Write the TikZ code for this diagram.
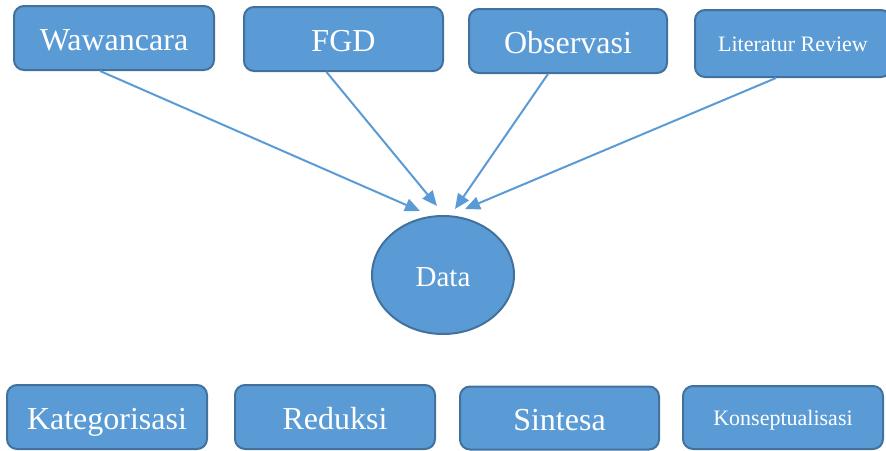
\documentclass[tikz,border=0pt]{standalone}
\usepackage{fontspec}
\setmainfont{Liberation Serif}
\usetikzlibrary{arrows.meta,shapes.geometric}
\definecolor{boxfill}{HTML}{5B9BD5}
\definecolor{boxline}{HTML}{41719C}

\tikzset{
	flowpicture/.style = {
		x = 1pt,
		y = -1pt,
		arrow/.style = {
			draw = boxfill,
			line width = 2pt,
			-{Triangle[length = 15pt, width = 13pt]},
		}
	},
	stepbox/.style = {
		rectangle,
		rounded corners = 10pt,
		draw = boxline,
		line width = 2pt,
		fill = boxfill,
		text = white,
		text height = 24pt,
		text depth = 0pt,
		minimum width = 200pt,
		minimum height = 64pt,
		font = \fontsize{32}{36}\selectfont
	},
	small-text/.style = {
		text height = 16.5pt,
		font = \fontsize{22}{26}\selectfont
	},
	datanode/.style = {
		ellipse,
		draw = boxline,
		line width = 2pt,
		fill = boxfill,
		text = white,
		text height = 22pt,
		text depth = 0pt,
		inner sep = 0pt,
		minimum width = 142pt,
		minimum height = 118pt,
		font = \fontsize{29}{34}\selectfont
	}
}

\begin{document}
\begin{tikzpicture}[flowpicture]
	\useasboundingbox (0,0) rectangle (886,450);

	\node[stepbox] (waw) at (114,38) {Wawancara};
	\node[stepbox, minimum width = 199pt] (fgd) at (343.5,39) {FGD};
	\node[stepbox, minimum width = 198pt] (obs) at (568,41) {Observasi};
	\node[stepbox, small-text, minimum width = 196pt, minimum height = 67pt] (lit) at (793,43.5) {Literatur Review};

	\node[datanode] (data) at (443,275) {Data};

	\node[stepbox] (kat) at (107,417) {Kategorisasi};
	\node[stepbox] (red) at (335,417) {Reduksi};
	\node[stepbox, minimum width = 199pt, minimum height = 63pt] (sin) at (559.5,418) {Sintesa};
	\node[stepbox, small-text, minimum height = 63pt] (kon) at (783,417.5) {Konseptualisasi};

	\begin{scope}[every path/.style = arrow]
		\path ([xshift = -14pt] waw.south) to ([xshift = -23pt, yshift = 4pt] data.north);
		\path ([xshift = -17pt] fgd.south) to ([xshift = -6pt, yshift = 9pt] data.north);
		\path ([xshift = -20pt] obs.south) to ([xshift = 12pt, yshift = 6pt] data.north);
		\path ([xshift = -17pt] lit.south) to ([xshift = 22pt, yshift = 6pt] data.north);
	\end{scope}
\end{tikzpicture}
\end{document}
